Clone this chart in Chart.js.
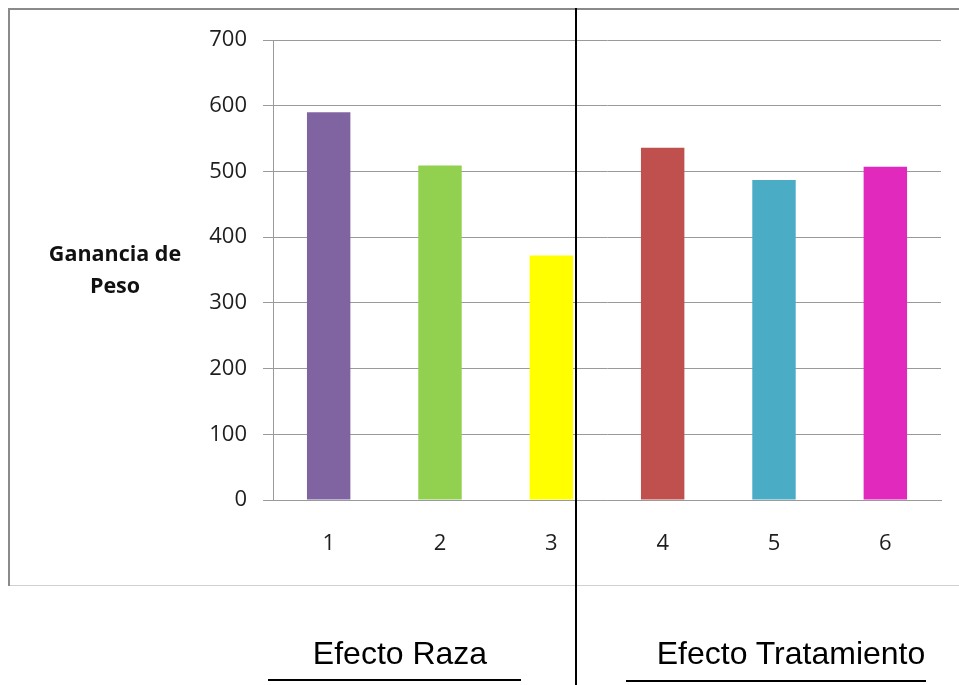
<!DOCTYPE html>
<html>
<head>
<meta charset="utf-8">
<script src="https://cdn.jsdelivr.net/npm/chart.js@4.4.1/dist/chart.umd.min.js"></script>
<style>
  html, body { margin: 0; padding: 0; background: #fff; }
  #wrap { position: relative; width: 959px; height: 685px; overflow: hidden; }
  canvas { position: absolute; left: 0; top: 0; }
  .ln { position: absolute; }
  .lbl { position: absolute; font-family: "Liberation Sans", Arial, sans-serif; font-size: 32px; color: #000; white-space: nowrap; transform: translateX(-50%); }
  #ytitle { position: absolute; left: 115px; top: 237px; transform: translateX(-50%); text-align: center;
            font-family: "Open Sans", sans-serif; font-weight: bold; font-size: 21.5px; line-height: 32px; color: #111; white-space: nowrap; }
</style>
</head>
<body>
<div id="wrap">
  <canvas id="c" width="959" height="685"></canvas>
  <div class="ln" style="left:8px;top:8px;width:951px;height:2px;background:#8a8a8a"></div>
  <div class="ln" style="left:8px;top:8px;width:2px;height:578px;background:#8a8a8a"></div>
  <div class="ln" style="left:10px;top:585px;width:949px;height:1px;background:#d0d0d0"></div>
  <div class="ln" style="left:575px;top:8px;width:2px;height:677px;background:#000"></div>
  <div id="ytitle">Ganancia de<br>Peso</div>
  <div class="lbl" style="left:400px;top:635px">Efecto Raza</div>
  <div class="lbl" style="left:791px;top:635px">Efecto Tratamiento</div>
  <div class="ln" style="left:268px;top:679px;width:253px;height:2px;background:#000"></div>
  <div class="ln" style="left:626px;top:680px;width:300px;height:2px;background:#000"></div>
</div>
<script>
const categories = ["1", "2", "3", "4", "5", "6"];
const gananciaPeso = [590, 509, 372, 536, 487, 507];
const barColors = ["#8064A2", "#92D050", "#FFFF00", "#C0504D", "#4BACC6", "#E229BE"];
const yTicks = [0, 100, 200, 300, 400, 500, 600, 700];

new Chart(document.getElementById("c"), {
  type: "bar",
  data: {
    labels: categories,
    datasets: [{
      data: gananciaPeso,
      backgroundColor: barColors,
      borderWidth: 0,
      barPercentage: 0.39,
      categoryPercentage: 1.0
    }]
  },
  options: {
    responsive: false,
    animation: false,
    devicePixelRatio: 1,
    layout: { padding: { left: 0, top: 40, right: 18, bottom: 100 } },
    plugins: { legend: { display: false }, tooltip: { enabled: false } },
    scales: {
      x: {
        grid: { display: false, drawTicks: false },
        border: { display: true, color: "#9a9a9a", width: 1 },
        ticks: { color: "#1e1e1e", font: { family: "Open Sans", size: 22 }, padding: 31 },
        afterFit: (s) => { s.height = 85; }
      },
      y: {
        min: 0, max: 700,
        afterBuildTicks: (s) => { s.ticks = yTicks.map(v => ({ value: v })); },
        grid: { color: "#9a9a9a", lineWidth: 1, drawTicks: true, tickLength: 10 },
        border: { display: true, color: "#9a9a9a", width: 1 },
        ticks: { color: "#1e1e1e", font: { family: "Open Sans", size: 22 }, padding: 16 },
        afterFit: (s) => { s.width = 273; }
      }
    }
  }
});
</script>
</body>
</html>
